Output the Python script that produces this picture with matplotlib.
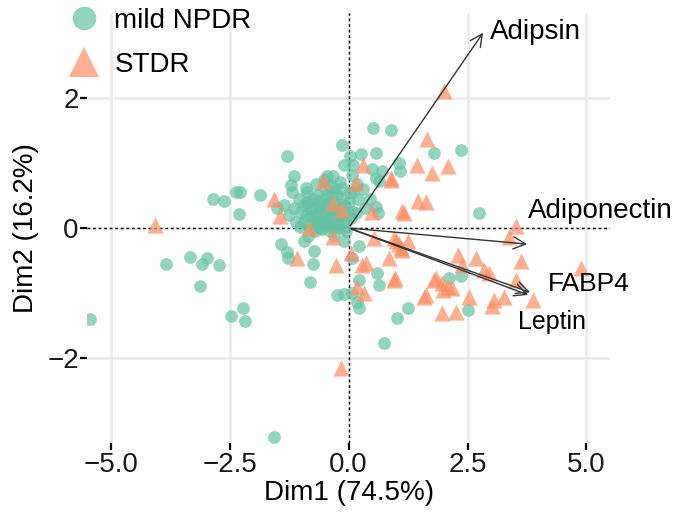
import matplotlib
matplotlib.use("Agg")
import matplotlib.pyplot as plt
from matplotlib.lines import Line2D

plt.rcParams['font.family'] = ['Liberation Sans', 'DejaVu Sans']

# individuals, mild NPDR (Dim1, Dim2)
npdr_x = [-5.44, -3.85, -3.33, -2.97, -3.08, -2.73, -3.12, -2.22, -2.47, -2.18, -1.57, -1.28, -1.43, -1.29,
          -2.85, -2.62, -2.36, -2.29, -1.87, -2.31, -1.29, -1.14, -1.22,
          0.52, 0.90, -0.13, 0.03, 0.25, 0.57, -0.10, 0.10, 0.50, 0.71, 1.09, 1.06, -0.34, 0.08, 0.57, 0.64,
          -0.52, -0.18, 0.18, -0.69, -0.87, 0.57, 0.62, 0.16, -0.31, 1.80, 2.36, 2.74,
          2.11, 2.36, 1.24, 2.52, 1.01, 0.74, 0.64, 0.60, 0.22, 0.18, 0.22, 0.08, 0.06, -0.10, -0.24,
          -0.81, -0.76, -0.72, -0.94, 0.22, -0.10, -0.31, -0.56,
          -1.05, -0.95, -0.85, -0.75, -0.65, -0.55, -0.45, -0.35, -0.25, -0.15,
          -1.00, -0.90, -0.80, -0.70, -0.60, -0.50, -0.40, -0.30, -0.20, -0.10, 0.00,
          -0.95, -0.85, -0.75, -0.65, -0.55, -0.45, -0.35, -0.25, -0.15, -0.05, 0.05,
          -0.70, -0.60, -0.40, -0.20, -0.05,
          -1.15, -1.25, -1.37, -1.50, -1.10, -1.20, -0.90, -0.40, 0.10, 0.20, 0.30, 0.35, 0.45, 0.10, -0.45,
          -0.80, -0.68, -0.58, -0.48, -0.38, -0.28, -0.18, -0.08, -0.72, -0.62, -0.52, -0.42, -0.32,
          -0.22, -0.12, -0.02, -0.88, -0.50, -0.30, -0.15, -0.62, -0.42, 0.02, -1.02, -0.85]
npdr_y = [-1.40, -0.55, -0.44, -0.46, -0.55, -0.56, -0.89, -1.22, -1.35, -1.42, -3.21, -0.46, -0.25, -0.37,
          0.45, 0.42, 0.56, 0.55, 0.51, 0.22, 1.10, 0.80, 0.66,
          1.54, 1.50, 1.28, 1.10, 1.13, 1.15, 0.97, 0.96, 0.90, 0.87, 0.87, 1.00, 0.80, 0.82, 0.77, 0.72,
          0.74, 0.70, 0.68, 0.68, 0.56, 0.33, 0.23, 0.23, 0.26, 1.15, 1.20, 0.23,
          -0.77, -0.74, -1.23, -1.26, -1.38, -1.77, -0.87, -0.69, -0.79, -1.13, -1.22, -0.46, -1.00, -1.01, -1.02,
          -0.82, -0.55, -0.35, -0.20, -0.28, -0.20, -0.10, -0.02,
          0.45, 0.35, 0.40, 0.45, 0.50, 0.45, 0.50, 0.55, 0.50, 0.45,
          0.25, 0.20, 0.28, 0.22, 0.30, 0.25, 0.32, 0.40, 0.30, 0.35, 0.40,
          0.10, 0.05, 0.12, 0.08, 0.15, 0.10, 0.15, 0.12, 0.18, 0.10, 0.15,
          -0.05, 0.00, -0.05, 0.02, -0.05,
          0.30, 0.20, 0.35, 0.30, 0.10, 0.55, 0.62, 0.65, 0.55, 0.45, 0.60, 0.30, 0.45, 0.25, 0.80,
          0.18, 0.32, 0.20, 0.35, 0.22, 0.28, 0.22, 0.25, 0.05, 0.02, 0.08, 0.05, 0.02,
          0.06, 0.00, 0.22, 0.38, 0.60, 0.62, 0.62, 0.40, 0.40, 0.55, 0.02, -0.12]

# individuals, STDR
stdr_x = [-4.08, -1.57, -1.45, -1.09, -0.27, -0.17, 0.31, -0.53, 0.90, 1.13, 0.50, -0.34, 0.15, -0.13, -0.83,
          2.01, 1.64, 1.43, 2.09, 1.76, 1.45, 1.62, 1.16, 3.52, 3.37, 0.88,
          1.06, 1.00, 1.10, 0.95,
          3.62, 4.88, 3.52, 3.87, 2.29, 2.67, 2.39, 2.85, 2.95, 1.83, 1.97, 2.08, 2.18, 1.99, 1.62, 2.53,
          3.06, 3.27, 3.02, 1.97, 2.25, 1.13, 1.24,
          0.95, 0.29, 0.32, 0.85, 1.80, 0.36, 0.04, 0.18, 0.97, 0.53, -0.34, 1.59]
stdr_y = [0.05, 0.45, 0.18, -0.46, -0.56, -2.15, 0.97, 0.72, 0.74, 0.26, 0.24, 0.38, 0.69, 0.28, 0.00,
          2.10, 1.36, 0.97, 0.95, 0.85, 0.41, 0.40, 0.23, 0.03, -0.13, 0.77,
          -0.25, -0.20, -0.30, -0.15,
          -0.51, -0.62, -0.79, -1.10, -0.41, -0.46, -0.56, -0.64, -0.69, -0.77, -0.85, -0.90, -0.92, -0.95, -1.02, -1.05,
          -1.10, -1.05, -1.20, -1.31, -1.28, -0.33, -0.20,
          -0.79, -0.56, -1.00, -0.46, -0.79, -0.54, -0.38, -0.90, -0.77, -0.15, -0.13, -1.05]

# variables (arrow tips)
var_names = ['Adipsin', 'Adiponectin', 'FABP4', 'Leptin']
var_x = [2.86, 3.81, 3.87, 3.83]
var_y = [3.03, -0.25, -1.00, -1.04]

green = '#66C2A5'
orange = '#FC8D62'

fig = plt.figure(figsize=(6.81, 5.13), dpi=100)
ax = fig.add_axes([0.128, 0.136, 0.768, 0.839])

ax.scatter(npdr_x, npdr_y, s=85, marker='o', color=green, alpha=0.7, linewidths=0, zorder=3)
ax.scatter(stdr_x, stdr_y, s=135, marker='^', color=orange, alpha=0.7, linewidths=0, zorder=3)

ax.axhline(0, color='black', lw=1, ls=(0, (2, 2)), zorder=2)
ax.axvline(0, color='black', lw=1, ls=(0, (2, 2)), zorder=2)

for name, x, y in zip(var_names, var_x, var_y):
    ax.annotate('', xy=(x, y), xytext=(0, 0),
                arrowprops=dict(arrowstyle='->', color='#333333', lw=1.0, mutation_scale=22), zorder=4)

# labels next to arrow tips
ax.text(2.98, 3.00, 'Adipsin', fontsize=20, va='center', ha='left')
ax.text(3.76, 0.26, 'Adiponectin', fontsize=20, va='center', ha='left')
ax.text(4.20, -0.86, 'FABP4', fontsize=19, va='center', ha='left')
ax.text(3.56, -1.44, 'Leptin', fontsize=18, va='center', ha='left')

ax.set_xlim(-5.5, 5.5)
ax.set_ylim(-3.3, 3.3)
ax.set_xticks([-5.0, -2.5, 0.0, 2.5, 5.0])
ax.set_xticklabels(['\u22125.0', '\u22122.5', '0.0', '2.5', '5.0'])
ax.set_yticks([-2, 0, 2])
ax.set_yticklabels(['\u22122', '0', '2'])
ax.grid(True, color='#EBEBEB', lw=1.8, zorder=0)
ax.set_axisbelow(True)
for sp in ax.spines.values():
    sp.set_visible(False)
ax.tick_params(axis='both', length=5, width=1.6, color='black', labelsize=20, labelcolor='#1A1A1A', pad=1)

ax.set_xlabel('Dim1 (74.5%)', fontsize=20, labelpad=2)
ax.set_ylabel('Dim2 (16.2%)', fontsize=20, labelpad=6)

handles = [Line2D([], [], marker='o', ls='', color=green, alpha=0.7, markersize=17, markeredgewidth=0),
           Line2D([], [], marker='^', ls='', color=orange, alpha=0.7, markersize=21, markeredgewidth=0)]
fig.legend(handles, ['mild NPDR', 'STDR'], loc='upper left', bbox_to_anchor=(0.062, 1.033),
           frameon=False, fontsize=20, handlelength=1.2, handletextpad=0.5, labelspacing=0.65)

fig.savefig('out.png', dpi=100)
